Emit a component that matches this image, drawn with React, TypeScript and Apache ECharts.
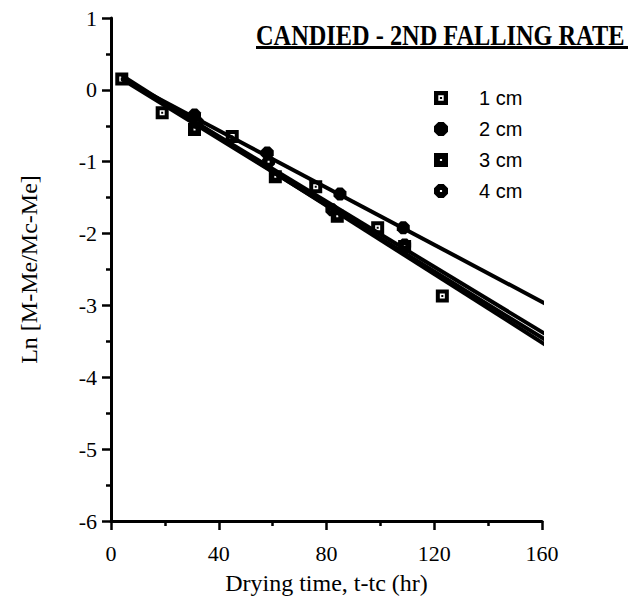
import React, { useEffect, useRef } from "react";
import * as echarts from "echarts";

// ---- data ----
const SERIES_NAMES = ["1 cm", "2 cm", "3 cm", "4 cm"];

const time1 = [4, 19, 45, 76, 99, 123];
const ln1 = [0.15, -0.32, -0.65, -1.35, -1.92, -2.87];

const time2 = [31, 58, 85, 108.5];
const ln2 = [-0.35, -0.88, -1.45, -1.92];

const time3 = [31, 61, 84, 109];
const ln3 = [-0.55, -1.21, -1.76, -2.18];

const time4 = [32, 58.5, 82, 109];
const ln4 = [-0.45, -1.0, -1.67, -2.16];

// fitted straight lines: value at start time and end time
const fitTimes = [4, 163.5];
const fit1 = [0.2, -3.6];
const fit2 = [0.15, -3.02];
const fit3 = [0.15, -3.53];
const fit4 = [0.17, -3.45];

const X_MIN = 0;
const X_MAX = 160;
const X_STEP = 40;
const Y_MIN = -6;
const Y_MAX = 1;
const Y_STEP = 1;

const TITLE = "CANDIED - 2ND FALLING RATE";
const X_NAME = "Drying time, t-tc (hr)";
const Y_NAME = "Ln [M-Me/Mc-Me]";

// ---- symbols ----
const SYM_SQ_RING =
  "path://M0,0L13,0L13,13L0,13Z M4,4L4,9L9,9L9,4Z M5.5,5.5L7.5,5.5L7.5,7.5L5.5,7.5Z";
const SYM_OCT = "path://M4,0L9,0L13,4L13,9L9,13L4,13L0,9L0,4Z";
const SYM_SQ_DOT = "path://M0,0L13,0L13,13L0,13Z M5.5,5.5L5.5,7.5L7.5,7.5L7.5,5.5Z";
const SYM_OCT_DOT =
  "path://M4,0L9,0L13,4L13,9L9,13L4,13L0,9L0,4Z M5.5,5.5L5.5,7.5L7.5,7.5L7.5,5.5Z";

const zip = (xs: number[], ys: number[]) => xs.map((x, i) => [x, ys[i]]);

export default function App() {
  const ref = useRef<HTMLDivElement>(null);

  useEffect(() => {
    if (!ref.current) return;
    const chart = echarts.init(ref.current, null, { renderer: "svg" });

    const serif = "Liberation Serif";
    const scatter = (name: string, data: number[][], symbol: string, size: number) => ({
      name,
      type: "scatter",
      data,
      symbol,
      symbolSize: size,
      itemStyle: { color: "#000", opacity: 1 },
      z: 5,
    });
    const fitLine = (name: string, vals: number[]) => ({
      name,
      type: "line",
      data: zip(fitTimes, vals),
      symbol: "none",
      clip: false,
      lineStyle: { color: "#000", width: 4 },
      z: 3,
      silent: true,
    });

    chart.setOption({
      animation: false,
      backgroundColor: "#fff",
      graphic: [
        {
          type: "text",
          x: 256,
          y: 50,
          scaleX: 0.84,
          style: {
            text: TITLE,
            fontFamily: serif,
            fontWeight: "bold",
            fontSize: 29,
            fill: "#000",
            align: "left",
            verticalAlign: "bottom",
          },
        },
        {
          type: "rect",
          shape: { x: 256, y: 46, width: 372, height: 3 },
          style: { fill: "#000" },
        },
      ],
      grid: {
        left: 111,
        right: 102,
        top: 18,
        bottom: 83,
        containLabel: false,
        outerBoundsMode: "none",
      },
      legend: {
        data: SERIES_NAMES,
        orient: "vertical",
        left: 429,
        top: 83,
        itemWidth: 66,
        itemHeight: 14,
        itemGap: 11,
        symbolKeepAspect: true,
        textStyle: {
          fontFamily: "Liberation Sans",
          fontSize: 20,
          color: "#000",
          lineHeight: 20,
        },
      },
      xAxis: {
        type: "value",
        min: X_MIN,
        max: X_MAX,
        interval: X_STEP,
        name: X_NAME,
        nameLocation: "middle",
        nameGap: 50,
        nameTextStyle: { fontFamily: serif, fontSize: 24, color: "#000" },
        axisLine: { onZero: false, lineStyle: { color: "#000", width: 3 } },
        axisTick: { show: true, length: 9, lineStyle: { color: "#000", width: 2.5 } },
        minorTick: { show: true, splitNumber: 2, length: 5, lineStyle: { color: "#000", width: 2.5 } },
        splitLine: { show: false },
        minorSplitLine: { show: false },
        axisLabel: { fontFamily: serif, fontSize: 22, color: "#000", margin: 21 },
      },
      yAxis: {
        type: "value",
        min: Y_MIN,
        max: Y_MAX,
        interval: Y_STEP,
        name: Y_NAME,
        nameLocation: "middle",
        nameGap: 70,
        nameTextStyle: { fontFamily: serif, fontSize: 24, color: "#000" },
        axisLine: { onZero: false, lineStyle: { color: "#000", width: 3 } },
        axisTick: { show: true, length: 9, lineStyle: { color: "#000", width: 2.5 } },
        minorTick: { show: true, splitNumber: 2, length: 5, lineStyle: { color: "#000", width: 2.5 } },
        splitLine: { show: false },
        minorSplitLine: { show: false },
        axisLabel: { fontFamily: serif, fontSize: 22, color: "#000", margin: 14 },
      },
      series: [
        fitLine("fit 1 cm", fit1),
        fitLine("fit 2 cm", fit2),
        fitLine("fit 3 cm", fit3),
        fitLine("fit 4 cm", fit4),
        scatter(SERIES_NAMES[1], zip(time2, ln2), SYM_OCT, 13),
        scatter(SERIES_NAMES[3], zip(time4, ln4), SYM_OCT_DOT, 13),
        scatter(SERIES_NAMES[2], zip(time3, ln3), SYM_SQ_DOT, 13),
        scatter(SERIES_NAMES[0], zip(time1, ln1), SYM_SQ_RING, 13),
      ],
    });

    return () => chart.dispose();
  }, []);

  return <div ref={ref} style={{ width: 644, height: 604, margin: -8 }} />;
}
